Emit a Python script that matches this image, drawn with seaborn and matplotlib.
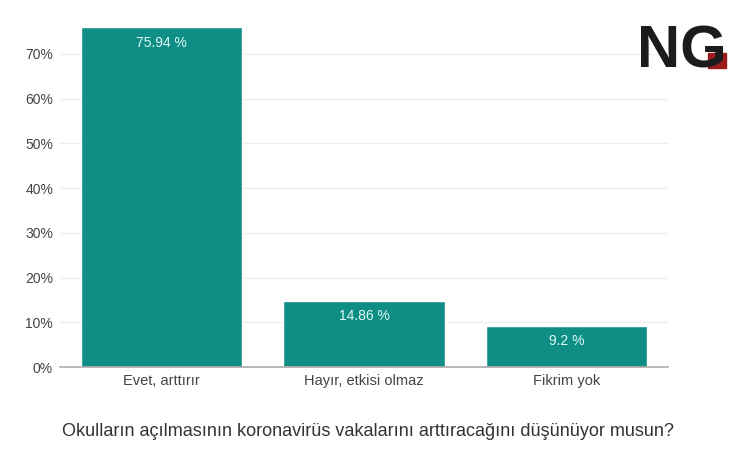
import matplotlib
matplotlib.use("Agg")
import matplotlib.pyplot as plt
import seaborn as sns
import pandas as pd
from matplotlib.ticker import PercentFormatter
from matplotlib.patches import Rectangle

categories = ["Evet, arttırır", "Hayır, etkisi olmaz", "Fikrim yok"]
values = [75.94, 14.86, 9.2]
value_labels = ["75.94 %", "14.86 %", "9.2 %"]
yticks = [0, 10, 20, 30, 40, 50, 60, 70]
title = "Okulların açılmasının koronavirüs vakalarını arttıracağını düşünüyor musun?"

df = pd.DataFrame({"cevap": categories, "oran": values})

sns.set_theme(style="white")
plt.rcParams["font.family"] = ["Liberation Sans", "DejaVu Sans"]

fig = plt.figure(figsize=(7.36, 4.5), dpi=100)
ax = fig.add_axes([0.0815, 0.1844, 0.826, 0.795])

sns.barplot(data=df, x="cevap", y="oran", color="#0f8e86", saturation=1,
            width=0.795, ax=ax)

ax.set_ylim(0, 80)
ax.set_xlim(-0.5, 2.5)
ax.set_yticks(yticks)
ax.yaxis.set_major_formatter(PercentFormatter(decimals=0))
ax.grid(axis="y", color="#ececec", linewidth=0.8)
ax.set_axisbelow(True)
for s in ["top", "right", "left"]:
    ax.spines[s].set_visible(False)
ax.spines["bottom"].set_color("#aaaaaa")
ax.spines["bottom"].set_linewidth(1.2)
ax.tick_params(axis="y", labelsize=10, colors="#444444", length=0, pad=5)
ax.tick_params(axis="x", labelsize=10.5, colors="#444444", length=0, pad=5)
ax.set_xlabel("")
ax.set_ylabel("")

for i, (v, lab) in enumerate(zip(values, value_labels)):
    ax.annotate(lab, (i, v), xytext=(0, -11), textcoords="offset points",
                ha="center", va="center", color="#dff8f4", fontsize=10)

fig.text(0.5, 0.04, title, ha="center", va="center", fontsize=13,
         color="#333333")

# NG logo
fig.text(0.866, 0.885, "NG", ha="left", va="center", fontsize=43,
         fontweight="bold", color="#1c1c1c")
fig.patches.append(Rectangle((0.962, 0.85), 0.024, 0.032,
                             transform=fig.transFigure, color="#9b1b1b"))

fig.savefig("out.png", dpi=100)
